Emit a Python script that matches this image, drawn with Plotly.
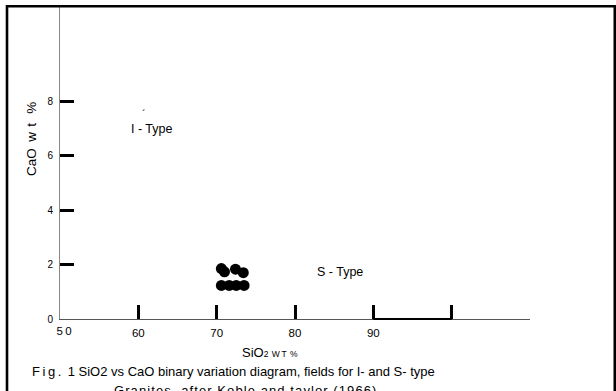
import plotly.graph_objects as go

# Sample analyses: SiO2 and CaO (wt %)
sio2 = [70.6, 71.0, 72.4, 73.4, 70.6, 71.6, 72.5, 73.5]
cao = [1.85, 1.73, 1.83, 1.70, 1.23, 1.23, 1.23, 1.23]

# Axis ticks
x_ticks = [60, 70, 80, 90, 100]
x_tick_text = ["60", "70", "80", "90", ""]
x_end_ticks = [50, 110]
x_end_text = ["\u2002\u20095\u20090", ""]
y_ticks = [0, 2, 4, 6, 8]
y_tick_text = ["0", "2", "4", "6", "8"]

# Field labels (SiO2, CaO)
fields = [("I - Type", 61.7, 6.97), ("S - Type", 85.7, 1.72)]

W, H = 616, 391
L, R, T, B = 60, 86, 7, 72
PW, PH = W - L - R, H - T - B
X_RANGE = [50, 110]
Y_RANGE = [0, 11.45]
FONT = "Arial, Liberation Sans, sans-serif"


def px_x(p):
    return (p - L) / PW


def px_y(p):
    return (H - B - p) / PH


def spaced(s, sep="\u200a"):
    return sep.join(s)


fig = go.Figure()

fig.add_trace(go.Scatter(
    x=sio2, y=cao, mode="markers",
    marker=dict(color="black", size=11, line=dict(width=0)),
    showlegend=False, hoverinfo="skip", cliponaxis=False,
))
# carrier for the overlay axis holding the end ticks
fig.add_trace(go.Scatter(x=[], y=[], xaxis="x2", showlegend=False, hoverinfo="skip"))

axis_common = dict(showgrid=False, zeroline=False, ticks="inside", ticklen=14)

fig.update_layout(
    width=W, height=H,
    margin=dict(l=L, r=R, t=T, b=B),
    paper_bgcolor="white", plot_bgcolor="white",
    font=dict(family=FONT, color="black"),
    xaxis=dict(
        range=X_RANGE, showline=True, linecolor="#555", linewidth=1,
        tickvals=x_ticks, ticktext=x_tick_text, tickwidth=2.5, tickcolor="black",
        tickfont=dict(size=11.5, family=FONT, color="black"),
        ticklabelstandoff=3,
        **axis_common,
    ),
    xaxis2=dict(
        range=X_RANGE, overlaying="x", anchor="y", side="bottom",
        showline=False, tickvals=x_end_ticks, ticktext=x_end_text,
        tickwidth=1.2, tickcolor="#888",
        tickfont=dict(size=11.5, family=FONT, color="black"),
        ticklabelstandoff=3,
        **axis_common,
    ),
    yaxis=dict(
        range=Y_RANGE, showline=True, linecolor="#888", linewidth=1,
        tickvals=y_ticks, ticktext=y_tick_text, tickwidth=2.5, tickcolor="black",
        tickfont=dict(size=10, family=FONT, color="black"),
        ticklabelstandoff=4,
        **axis_common,
    ),
)

shapes = [
    # frame round the figure
    dict(type="rect", xref="paper", yref="paper",
         x0=px_x(7), x1=px_x(614.8), y0=px_y(400), y1=px_y(6.3),
         line=dict(color="black", width=2.6), fillcolor="rgba(0,0,0,0)", layer="above"),
    # heavier stretch of the SiO2 axis between 90 and 100
    dict(type="line", xref="x", yref="paper", x0=x_ticks[3], x1=x_ticks[4], y0=0, y1=0,
         line=dict(color="black", width=2), layer="above"),
]
fig.update_layout(shapes=shapes)


def note(x, y, text, size, **kw):
    return dict(x=px_x(x), y=px_y(y), xref="paper", yref="paper", text=text,
                showarrow=False, yanchor="middle", xanchor=kw.pop("xanchor", "center"),
                font=dict(size=size, family=FONT, color="black"), **kw)


annotations = []
for label, fx, fy in fields:
    annotations.append(dict(x=fx, y=fy, xref="x", yref="y", text=label, showarrow=False,
                            xanchor="center", yanchor="middle",
                            font=dict(size=12.5, family=FONT, color="black")))
annotations.append(note(144, 114, "\u00b4", 11))
annotations.append(note(31, 139, "CaO\u2009 w\u2009\u2009t\u2009\u2009 %", 13.5, textangle=-90))
annotations.append(note(270, 352,
                        "SiO<span style='font-size:8.5px'>2\u2009\u2009W\u2009T\u2009\u2009%</span>", 13))
annotations.append(note(29.5, 371,
                        spaced("Fig.", "\u2009") + "\u2009 1 SiO2 vs CaO binary variation diagram, fields for I- and S- type",
                        13, xanchor="left"))
annotations.append(note(244.5, 390, spaced("Granites, after Koble and taylor (1966)", "\u200a"), 13))
fig.update_layout(annotations=annotations)

fig.write_html("out.html")
